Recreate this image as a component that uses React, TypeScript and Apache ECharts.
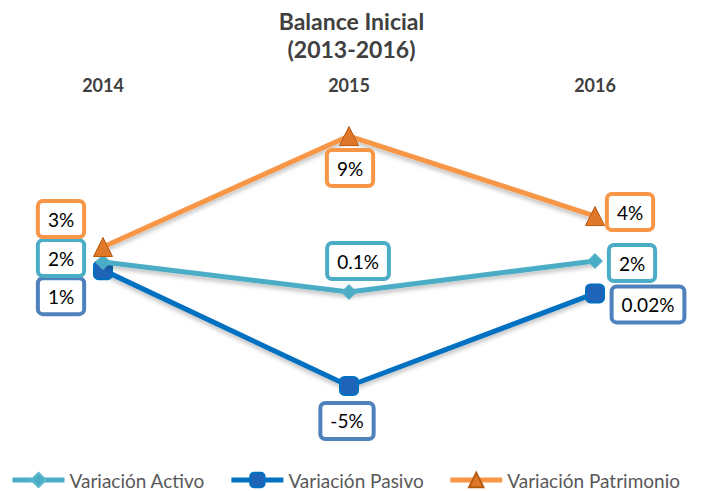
import React, { useEffect, useRef } from "react";
import * as echarts from "echarts";

const years = ["2014", "2015", "2016"];
const activo = [1.81, 0.1, 1.87];
const pasivo = [1.35, -5.27, 0.02];
const patrimonio = [2.67, 9.01, 4.44];
const activoLabels = ["2%", "0.1%", "2%"];
const pasivoLabels = ["1%", "-5%", "0.02%"];
const patrimonioLabels = ["3%", "9%", "4%"];

const activoOffsets = [[-42, -4], [9, -31], [37, 2]];
const pasivoOffsets = [[-42, 26], [-2, 35], [53, 11]];
const patrimonioOffsets = [[-42, -28], [1, 32], [35, -4]];

const FONT = "Lato, 'Open Sans', sans-serif";

function mkData(vals: number[], labels: string[], offsets: number[][], border: string) {
  return vals.map((v, i) => ({
    value: v,
    label: {
      show: true,
      position: "inside",
      offset: offsets[i],
      formatter: labels[i],
      fontFamily: FONT,
      fontSize: 19,
      lineHeight: 23,
      color: "#000",
      backgroundColor: "#fff",
      borderColor: border,
      borderWidth: 4,
      borderRadius: 3,
      padding: [5, 8, 4, 8],
    },
  }));
}

export default function App() {
  const ref = useRef<HTMLDivElement>(null);
  useEffect(() => {
    const chart = echarts.init(ref.current!, null, { renderer: "svg" });
    const lineShadow = {
      shadowColor: "rgba(0,0,0,0.25)",
      shadowBlur: 4,
      shadowOffsetY: 3,
    };
    chart.setOption({
      animation: false,
      backgroundColor: "#fff",
      title: {
        text: "Balance Inicial\n(2013-2016)",
        left: "center",
        top: 2,
        textStyle: {
          fontFamily: FONT,
          fontSize: 23,
          fontWeight: "bold",
          color: "#404040",
          lineHeight: 28,
        },
      },
      grid: { left: 103, right: 108, top: 118.75, bottom: 92.25 },
      xAxis: {
        type: "category",
        data: years,
        position: "top",
        boundaryGap: false,
        axisLine: { show: false },
        axisTick: { show: false },
        splitLine: { show: false },
        axisLabel: {
          margin: 25,
          fontFamily: FONT,
          fontSize: 18,
          fontWeight: "bold",
          color: "#404040",
        },
      },
      yAxis: {
        type: "value",
        min: -6,
        max: 10,
        show: false,
        splitLine: { show: false },
      },
      legend: {
        top: 470,
        left: 10,
        width: 693,
        padding: 0,
        itemWidth: 52,
        itemHeight: 18,
        itemGap: 24,
        lineStyle: { width: 5, shadowBlur: 0, shadowOffsetY: 0, shadowColor: "transparent" },
        textStyle: { fontFamily: FONT, fontSize: 19, lineHeight: 20, color: "#595959" },
        data: ["Variación Activo", "Variación Pasivo", "Variación Patrimonio"],
      },
      series: [
        {
          name: "Variación Activo",
          type: "line",
          data: mkData(activo, activoLabels, activoOffsets, "#4BACC6"),
          symbol: "diamond",
          symbolSize: 15,
          lineStyle: { width: 5, color: "#4BACC6", ...lineShadow },
          itemStyle: { color: "#4BACC6", borderColor: "#5BB8D0", borderWidth: 1 },
          z: 3,
        },
        {
          name: "Variación Pasivo",
          type: "line",
          data: mkData(pasivo, pasivoLabels, pasivoOffsets, "#4F81BD"),
          symbol: "roundRect",
          symbolSize: 18,
          lineStyle: { width: 5, color: "#0070C0", ...lineShadow },
          itemStyle: { color: "#1F64B8", borderColor: "#0070C0", borderWidth: 2 },
          z: 2,
        },
        {
          name: "Variación Patrimonio",
          type: "line",
          data: mkData(patrimonio, patrimonioLabels, patrimonioOffsets, "#F79646"),
          symbol: "triangle",
          symbolSize: 19,
          lineStyle: { width: 5, color: "#F79646", ...lineShadow },
          itemStyle: { color: "#E0782A", borderColor: "#B65A12", borderWidth: 1 },
          z: 4,
        },
      ],
    });
    return () => chart.dispose();
  }, []);
  return <div ref={ref} style={{ width: 703, height: 491, position: "absolute", left: 0, top: 0 }} />;
}
